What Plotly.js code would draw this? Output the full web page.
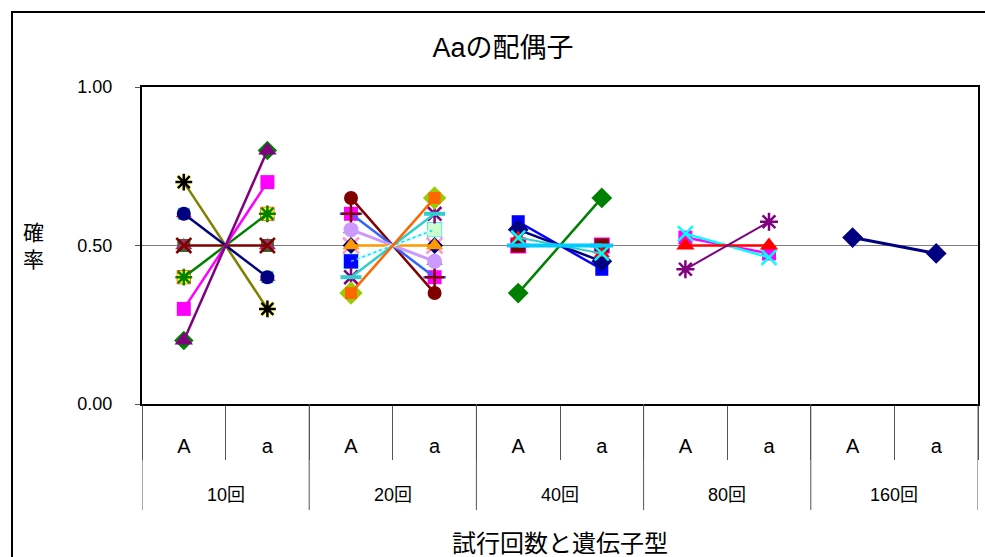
<!DOCTYPE html>
<html><head><meta charset="utf-8">
<script src="https://cdn.plot.ly/plotly-3.0.1.min.js"></script>
<style>html,body{margin:0;padding:0;background:#fff}</style>
</head><body><div id="chart" style="width:985px;height:557px"></div>
<script>
// ---------- data ----------
const trials = ["10回", "20回", "40回", "80回", "160回"];
const genotypes = ["A", "a"];
const yTickVals = [0, 0.5, 1.0];

// frequency of A and a in each simulated series, per number of trials
const A10 = [0.7, 0.6, 0.5, 0.4, 0.3, 0.2];
const a10 = [0.3, 0.4, 0.5, 0.6, 0.7, 0.8];
const A20 = [0.65, 0.6, 0.55, 0.5, 0.45, 0.45, 0.4, 0.35];
const a20 = [0.35, 0.4, 0.45, 0.5, 0.55, 0.55, 0.6, 0.65];
const A40 = [0.5, 0.35, 0.575, 0.55, 0.525, 0.5];
const a40 = [0.5, 0.65, 0.425, 0.45, 0.475, 0.5];
const A80 = [0.525, 0.5375, 0.5, 0.425];
const a80 = [0.475, 0.4625, 0.5, 0.575];
const A160 = [0.525];
const a160 = [0.475];

// ---------- styles (separate from data) ----------
const st10 = [
  {line:"#808000", w:2.5, under:[{s:"square", c:"#FFFF99", z:14}], s:"asterisk-open", c:"#000000", z:14},
  {line:"#000080", w:2.5, under:[{s:"triangle-up", c:"#FF0000", z:14},{s:"square", c:"#33CCCC", z:12}], s:"circle", c:"#000080", z:14},
  {line:"#800000", w:2.5, under:[{s:"square", c:"#336633", z:13},{s:"triangle-up", c:"#993366", z:15}], s:"x-thin-open", c:"#800000", z:15},
  {line:"#008000", w:2.5, under:[{s:"square", c:"#FF0000", z:14},{s:"square", c:"#FFFF00", z:13}], s:"asterisk-open", c:"#008000", z:14},
  {line:"#FF00FF", w:2.5, under:[{s:"square", c:"#0000FF", z:12}], s:"square", c:"#FF00FF", z:14},
  {line:"#800080", w:2.5, under:[{s:"diamond", c:"#008000", z:15}], s:"triangle-up", c:"#800080", z:16}
];
const st20 = [
  {line:"#800000", w:2.5, under:[], s:"circle", c:"#800000", z:14},
  {line:"#3366FF", w:2.5, under:[{s:"line-ew-open", c:"#3366FF", z:16},{s:"square", c:"#FF00FF", z:14}], s:"cross-thin-open", c:"#800000", z:14},
  {line:"#CC99FF", w:3, under:[{s:"triangle-up", c:"#008000", z:14}], s:"circle", c:"#CC99FF", z:15},
  {line:"#FF9900", w:2.5, under:[{s:"x-thin-open", c:"#FF99CC", z:16},{s:"diamond", c:"#000080", z:13}], s:"triangle-up", c:"#FF9900", z:15},
  {line:"#CCFFFF", w:3.5, under:[{s:"square", c:"#00CCFF", z:15}], s:["square","square"], c:["#0000FF","#CCFFCC"], z:14},
  {line:"#33CCFF", w:1.5, dash:"dot", under:[], s:"none", c:"#33CCFF", z:1},
  {line:"#33CCCC", w:2.5, under:[{s:"asterisk-open", c:"#800080", z:16}], s:"line-ew-open", c:"#33CCCC", z:15, lw:4},
  {line:"#FF6600", w:2.5, under:[{s:"diamond", c:"#99CC00", z:18}], s:"square", c:"#FF6600", z:12}
];
const st40 = [
  {line:"#800000", w:2, under:[{s:"square", c:"#FF00FF", z:16}], s:"square", c:"#800000", z:14},
  {line:"#008000", w:2.5, under:[], s:"diamond", c:"#008000", z:16},
  {line:"#0000FF", w:2.5, under:[], s:"square", c:"#0000FF", z:13},
  {line:"#000080", w:2.5, under:[], s:"diamond", c:"#000080", z:16},
  {line:"#33CCCC", w:2, under:[{s:"triangle-up", c:"#FF0000", z:14}], s:"x-thin-open", c:"#00FFFF", z:14},
  {line:"#00CCFF", w:4, under:[], s:"line-ew-open", c:"#00CCFF", z:16, lw:4}
];
const st80 = [
  {line:"#FF00FF", w:2.5, under:[], s:"square", c:"#FF00FF", z:14},
  {line:"#00FFFF", w:2.5, under:[], s:"x-thin-open", c:"#00FFFF", z:15},
  {line:"#FF0000", w:2.5, under:[], s:"triangle-up", c:"#FF0000", z:16},
  {line:"#800080", w:2, under:[], s:"asterisk-open", c:"#800080", z:15}
];
const st160 = [
  {line:"#000080", w:3, under:[], s:"diamond", c:"#000080", z:16}
];

// ---------- build traces ----------
const catKeys = [];
trials.forEach(t => genotypes.forEach(g => catKeys.push(t + "|" + g)));
const catText = catKeys.map(k => k.split("|")[1]);

const traces = [];
function markerOf(sym, col, size, lw) {
  const syms = Array.isArray(sym) ? sym : [sym, sym];
  const cols = Array.isArray(col) ? col : [col, col];
  const open = syms.map(s => /open$/.test(s));
  return {
    symbol: syms, size: size, color: cols,
    line: {color: cols, width: open.some(o => o) ? (lw || 2.5) : 0}
  };
}
function addGroup(trial, Avals, avals, styles) {
  const x = genotypes.map(g => trial + "|" + g);
  Avals.forEach((av, i) => {
    const y = [av, avals[i]];
    const st = styles[i];
    st.under.forEach(u => {
      traces.push({type:"scatter", mode:"markers", x:x, y:y, hoverinfo:"skip",
        marker: markerOf(u.s, u.c, u.z, u.lw), showlegend:false, cliponaxis:false});
    });
    traces.push({type:"scatter", mode: st.s === "none" ? "lines" : "lines+markers", x:x, y:y,
      line:{color:st.line, width:st.w, dash: st.dash || "solid"},
      marker: markerOf(st.s, st.c, st.z, st.lw), showlegend:false, hoverinfo:"skip", cliponaxis:false});
  });
}
addGroup(trials[0], A10, a10, st10);
addGroup(trials[1], A20, a20, st20);
addGroup(trials[2], A40, a40, st40);
addGroup(trials[3], A80, a80, st80);
addGroup(trials[4], A160, a160, st160);

// ---------- layout ----------
const PL = 142, PR = 978, PT = 87, PB = 404;
const PW = PR - PL, PH = PB - PT;
const py = px => (PB - px) / PH;     // pixel y -> paper y
const pxx = px => (px - PL) / PW;    // pixel x -> paper x
const FONT = "Liberation Sans, Noto Sans CJK JP, sans-serif";

const shapes = [];
// outer chart border
shapes.push({type:"rect", xref:"paper", yref:"paper", x0:pxx(12), x1:pxx(1100), y0:py(700), y1:py(12),
  line:{color:"#000", width:2}, fillcolor:"rgba(0,0,0,0)", layer:"below"});
// group dividers
for (let i = 0; i <= trials.length; i++) {
  shapes.push({type:"line", xref:"x", yref:"paper", x0:i*2-0.5, x1:i*2-0.5, y0:0, y1:py(510),
    line:{color:"#555", width:1}});
}
const annotations = trials.map((t, i) => ({
  text:t, xref:"x", yref:"paper", x:i*2+0.5, y:py(495), showarrow:false,
  xanchor:"center", yanchor:"middle", font:{family:FONT, size:18, color:"#000"}
}));
annotations.push({text:"試行回数と遺伝子型", xref:"paper", yref:"paper", x:0.5, y:py(543),
  showarrow:false, xanchor:"center", yanchor:"middle", font:{family:FONT, size:24, color:"#000"}});
annotations.push({text:"確<br>率", xref:"paper", yref:"paper", x:pxx(33), y:py(246),
  showarrow:false, xanchor:"center", yanchor:"middle", font:{family:FONT, size:21, color:"#000"}});

const layout = {
  width:985, height:557,
  margin:{l:PL, r:985-PR, t:PT, b:557-PB, pad:0},
  paper_bgcolor:"#fff", plot_bgcolor:"#fff",
  showlegend:false, hovermode:false,
  title:{text:"Aaの配偶子", xref:"container", yref:"container", x:503/985, y:1-48/557,
    xanchor:"center", yanchor:"middle", font:{family:FONT, size:27, color:"#000"}},
  xaxis:{type:"category", categoryorder:"array", categoryarray:catKeys,
    tickvals:catKeys, ticktext:catText, range:[-0.5, catKeys.length-0.5],
    tickson:"boundaries", ticks:"outside", ticklen:54, tickcolor:"#555", tickwidth:1,
    ticklabelstandoff:23,
    showline:true, linecolor:"#000", linewidth:2, mirror:true, showgrid:false, zeroline:false,
    tickfont:{family:FONT, size:20, color:"#000"}, fixedrange:true},
  yaxis:{range:[0,1], tickvals:yTickVals, tickformat:".2f", ticks:"outside", ticklen:5,
    tickcolor:"#555", showline:true, linecolor:"#000", linewidth:2, mirror:true,
    showgrid:true, gridcolor:"#808080", gridwidth:1, zeroline:false, ticklabelstandoff:19,
    tickfont:{family:FONT, size:18, color:"#000"}, fixedrange:true},
  shapes:shapes, annotations:annotations
};
Plotly.newPlot("chart", traces, layout, {staticPlot:true, displayModeBar:false});
</script>
</body></html>
